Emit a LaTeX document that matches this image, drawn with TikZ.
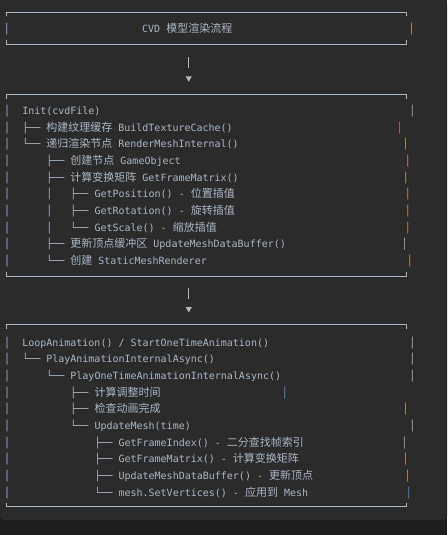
\documentclass[tikz,border=0pt]{standalone}
\usepackage{fontspec}
\setmonofont{DejaVu Sans Mono}
\newfontfamily\cjk[Scale=1.1]{Noto Sans CJK SC}
\definecolor{panelbg}{HTML}{2B2B2B}
\definecolor{pagebg}{HTML}{1F1F1F}
\definecolor{codetext}{HTML}{A9B7C6}
\definecolor{barorange}{HTML}{C99650}
\definecolor{barblue}{HTML}{4F95DA}
\definecolor{barpink}{HTML}{C8606E}
\definecolor{bargreen}{HTML}{9DB8A4}

\begin{document}
\begin{tikzpicture}[x=1pt, y=-1pt,
  codeline/.style={anchor=base west, inner sep=0pt, text=codetext, font=\ttfamily\fontsize{10}{12}\selectfont},
  edgebar/.style={anchor=base, inner sep=0pt, text=#1, font=\ttfamily\fontsize{10}{12}\selectfont},
  panel/.style={minimum width=399.3pt, inner sep=0pt, draw=none},
  frame/.style={draw=codetext, line width=0.8pt},
  flowbar/.style={draw=codetext, line width=0.8pt}]

  % page and code block
  \useasboundingbox (0,0) rectangle (447,535);
  \fill[pagebg] (0,0) rectangle (447,535);
  \fill[panelbg, rounded corners=4pt] (0,0) rectangle (447,520);
  \fill[panelbg] (0,0) rectangle (447,10);

  % Title box
  \node[panel, minimum height=32pt] (box1) at (206.7, 28.3) {};
  \draw[frame] (box1.north west) ++(0,4) -- ++(0,-4) -- (box1.north east) -- ++(0,4);
  \draw[frame] (box1.south west) ++(0,-4) -- ++(0,4) -- (box1.south east) -- ++(0,-4);
  \node[edgebar=codetext] (title-l) at (7, 32.1) {│};
  \node[codeline] (title) at (142, 32.1) {CVD~{\cjk 模型渲染流程}};
  \node[edgebar=barorange] (title-r) at (411.7, 32.1) {│};

  % Init box
  \node[panel, minimum height=181pt] (box2) at (206.7, 185.5) {};
  \draw[frame] (box2.north west) ++(0,4) -- ++(0,-4) -- (box2.north east) -- ++(0,4);
  \draw[frame] (box2.south west) ++(0,-4) -- ++(0,4) -- (box2.south east) -- ++(0,-4);
  \node[codeline] (init) at (4, 114.3) {│~~Init(cvdFile)};
  \node[codeline] (cache) at (4, 131.0) {│~~├──~{\cjk 构建纹理缓存}~BuildTextureCache()};
  \node[codeline] (render) at (4, 147.6) {│~~└──~{\cjk 递归渲染节点}~RenderMeshInternal()};
  \node[codeline] (gameobj) at (4, 164.3) {│~~~~~~├──~{\cjk 创建节点}~GameObject};
  \node[codeline] (matrix) at (4, 181.0) {│~~~~~~├──~{\cjk 计算变换矩阵}~GetFrameMatrix()};
  \node[codeline] (pos) at (4, 197.6) {│~~~~~~│~~~├──~GetPosition()~-~{\cjk 位置插值}};
  \node[codeline] (rot) at (4, 214.3) {│~~~~~~│~~~├──~GetRotation()~-~{\cjk 旋转插值}};
  \node[codeline] (scale) at (4, 231.0) {│~~~~~~│~~~└──~GetScale()~-~{\cjk 缩放插值}};
  \node[codeline] (buffer) at (4, 247.7) {│~~~~~~├──~{\cjk 更新顶点缓冲区}~UpdateMeshDataBuffer()};
  \node[codeline] (renderer) at (4, 264.3) {│~~~~~~└──~{\cjk 创建}~StaticMeshRenderer};
  \node[edgebar=bargreen] (init-r) at (412.3, 114.3) {│};
  \node[edgebar=barpink] (cache-r) at (399.7, 131.0) {│};
  \node[edgebar=barorange] (render-r) at (405.7, 147.6) {│};
  \node[edgebar=barorange] (gameobj-r) at (408, 164.3) {│};
  \node[edgebar=barorange] (matrix-r) at (406, 181.0) {│};
  \node[edgebar=barorange] (pos-r) at (408, 197.6) {│};
  \node[edgebar=barorange] (rot-r) at (408, 214.3) {│};
  \node[edgebar=barorange] (scale-r) at (408, 231.0) {│};
  \node[edgebar=bargreen] (buffer-r) at (404.7, 247.7) {│};
  \node[edgebar=barorange] (renderer-r) at (410, 264.3) {│};

  % Animation box
  \node[panel, minimum height=181.7pt] (box3) at (206.7, 415.8) {};
  \draw[frame] (box3.north west) ++(0,4) -- ++(0,-4) -- (box3.north east) -- ++(0,4);
  \draw[frame] (box3.south west) ++(0,-4) -- ++(0,4) -- (box3.south east) -- ++(0,-4);
  \node[codeline] (loop) at (4, 346.3) {│~~LoopAnimation()~/~StartOneTimeAnimation()};
  \node[codeline] (playanim) at (4, 362.9) {│~~└──~PlayAnimationInternalAsync()};
  \node[codeline] (playone) at (4, 379.6) {│~~~~~~└──~PlayOneTimeAnimationInternalAsync()};
  \node[codeline] (adjust) at (4, 396.2) {│~~~~~~~~~~├──~{\cjk 计算调整时间}};
  \node[codeline] (check) at (4, 412.8) {│~~~~~~~~~~├──~{\cjk 检查动画完成}};
  \node[codeline] (update) at (4, 429.5) {│~~~~~~~~~~└──~UpdateMesh(time)};
  \node[codeline] (index) at (4, 446.1) {│~~~~~~~~~~~~~~├──~GetFrameIndex()~-~{\cjk 二分查找帧索引}};
  \node[codeline] (fmatrix) at (4, 462.7) {│~~~~~~~~~~~~~~├──~GetFrameMatrix()~-~{\cjk 计算变换矩阵}};
  \node[codeline] (databuf) at (4, 479.4) {│~~~~~~~~~~~~~~├──~UpdateMeshDataBuffer()~-~{\cjk 更新顶点}};
  \node[codeline] (setvert) at (4, 496.0) {│~~~~~~~~~~~~~~└──~mesh.SetVertices()~-~{\cjk 应用到}~Mesh};
  \node[edgebar=codetext] (loop-r) at (412.3, 346.3) {│};
  \node[edgebar=codetext] (playanim-r) at (412.3, 362.9) {│};
  \node[edgebar=codetext] (playone-r) at (412.3, 379.6) {│};
  \node[edgebar=barblue] (adjust-r) at (285, 396.2) {│};
  \node[edgebar=barorange] (check-r) at (405.7, 412.8) {│};
  \node[edgebar=codetext] (update-r) at (412.3, 429.5) {│};
  \node[edgebar=bargreen] (index-r) at (404.3, 446.1) {│};
  \node[edgebar=barorange] (fmatrix-r) at (405.7, 462.7) {│};
  \node[edgebar=barorange] (databuf-r) at (407.7, 479.4) {│};
  \node[edgebar=barblue] (setvert-r) at (409, 496.0) {│};

  % flow arrows
  \draw[flowbar] ([xshift=-18pt]box1.south) ++(0,12.5) -- ++(0,11);
  \fill[codetext] ([xshift=-18pt]box2.north) ++(-3.2,-18.5) -- ++(6.4,0) -- ++(-3.2,5.5) -- cycle;
  \draw[flowbar] ([xshift=-18pt]box2.south) ++(0,11.5) -- ++(0,11);
  \fill[codetext] ([xshift=-18pt]box3.north) ++(-3.2,-17.7) -- ++(6.4,0) -- ++(-3.2,5.4) -- cycle;
\end{tikzpicture}
\end{document}
